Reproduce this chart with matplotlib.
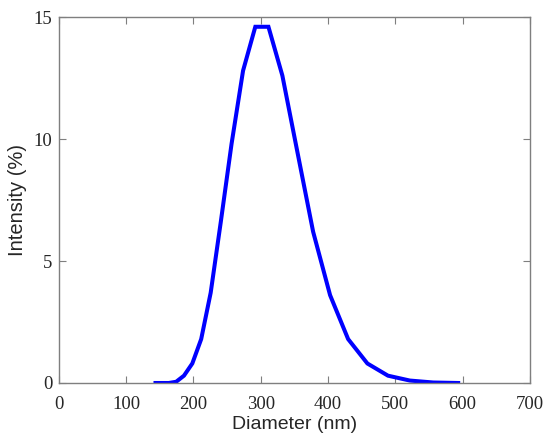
import matplotlib
matplotlib.use("Agg")
import matplotlib.pyplot as plt

# DLS size distribution
diameter = [143.6, 153.2, 163.4, 174.3, 185.9, 198.3, 211.5, 225.6, 240.6, 256.6,
            273.7, 291.9, 311.4, 332.1, 354.2, 377.8, 403.0, 429.8, 458.4, 489.0,
            521.5, 556.3, 593.3]
intensity = [0.0, 0.0, 0.0, 0.05, 0.3, 0.8, 1.8, 3.7, 6.6, 9.8,
             12.8, 14.6, 14.6, 12.6, 9.5, 6.2, 3.6, 1.8, 0.8, 0.3,
             0.1, 0.02, 0.0]

x_ticks = [0, 100, 200, 300, 400, 500, 600, 700]
y_ticks = [0, 5, 10, 15]

fig = plt.figure(figsize=(5.5, 4.42), dpi=100)
ax = fig.add_axes([0.107, 0.1335, 0.8566, 0.828])

ax.plot(diameter, intensity, color="#0000ff", linewidth=2.9, solid_joinstyle="miter")

ax.set_xlim(0, 700)
ax.set_ylim(0, 15)
ax.set_xticks(x_ticks)
ax.set_yticks(y_ticks)

for s in ax.spines.values():
    s.set_color("#7f7f7f")
    s.set_linewidth(1.0)

ax.tick_params(direction="in", length=5, width=0.8, color="#7f7f7f",
               top=True, right=True, labelsize=13.5)
ax.tick_params(axis="x", pad=9.5)
ax.tick_params(axis="y", pad=4.5)
for lab in ax.get_xticklabels() + ax.get_yticklabels():
    lab.set_family("Liberation Serif")
    lab.set_color("#262626")

ax.set_xlabel("Diameter (nm)", family="Liberation Sans", fontsize=14, color="#262626", labelpad=2)
ax.set_ylabel("Intensity (%)", family="Liberation Sans", fontsize=14.5, color="#262626", labelpad=5)

fig.savefig("out.png", dpi=100)
